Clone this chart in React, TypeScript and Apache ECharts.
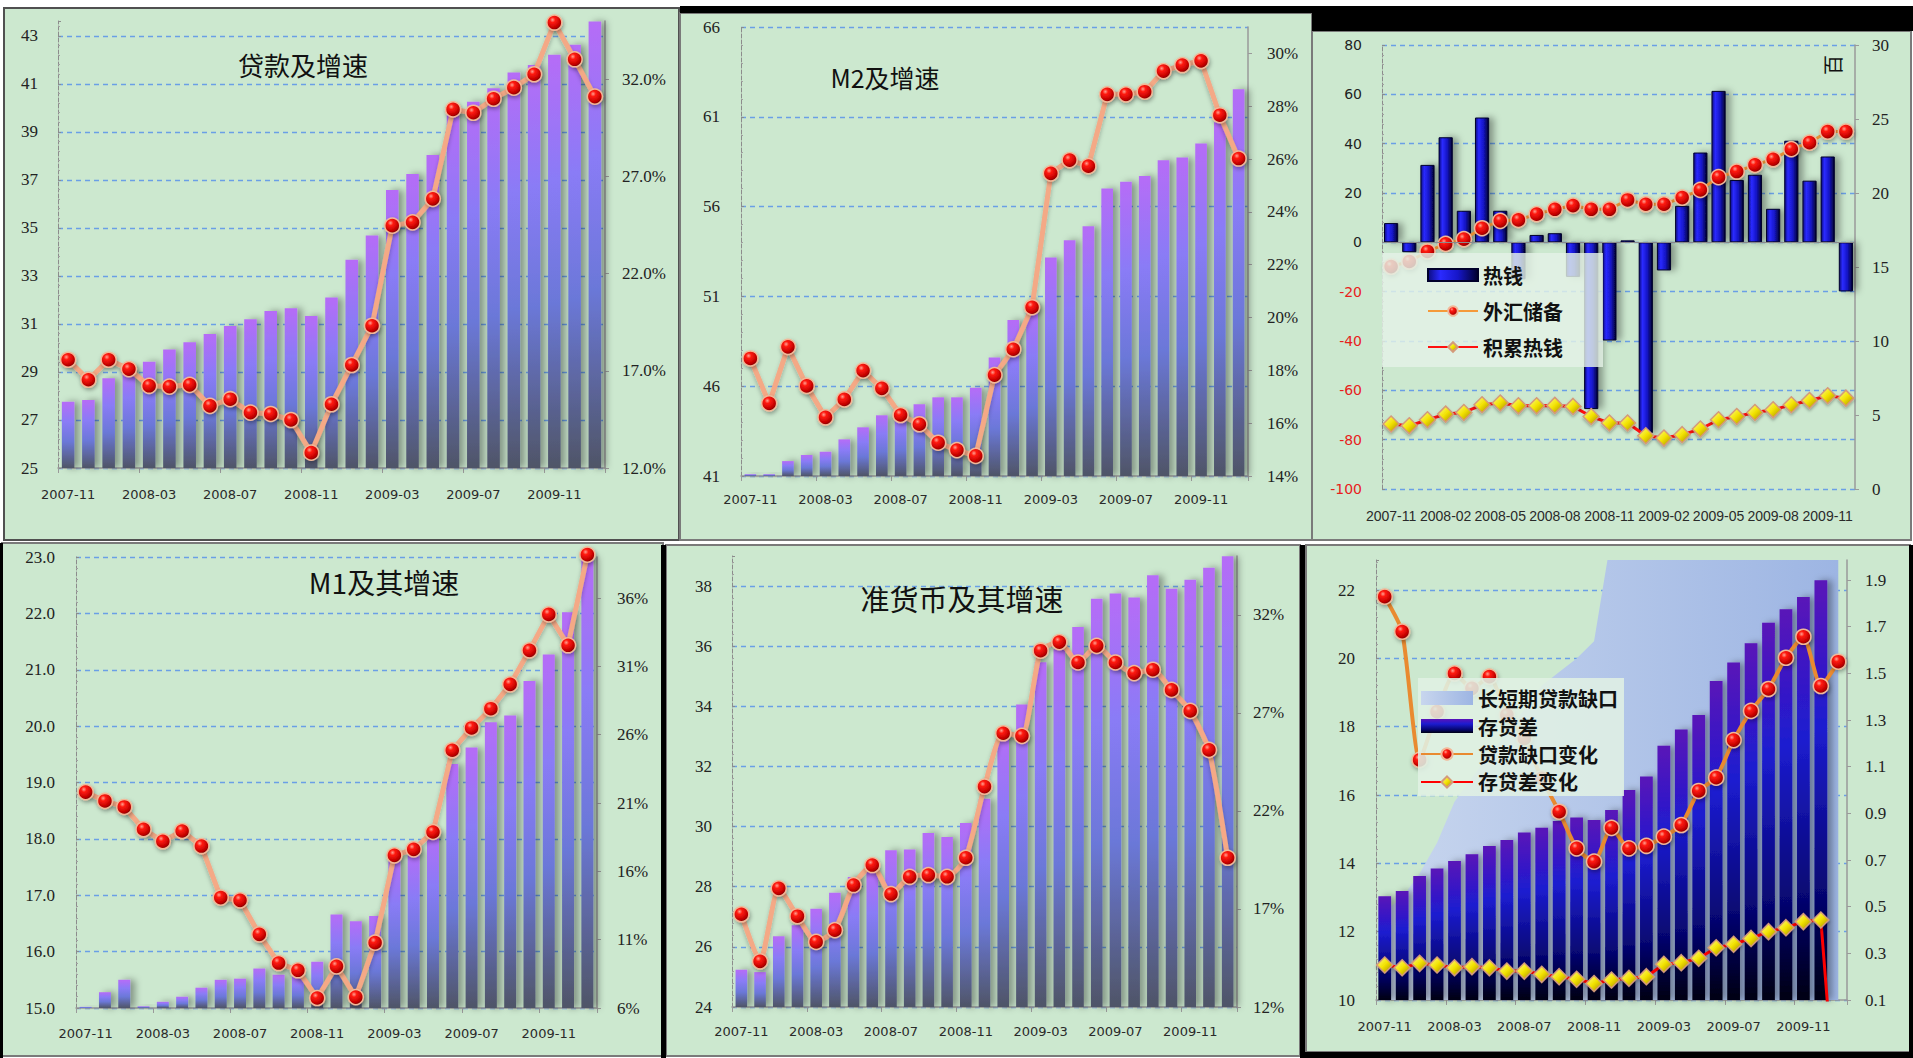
import React, { useEffect, useRef } from 'react';
import * as echarts from 'echarts';

// ---------------- data ----------------
const MONTHS = ['2007-11', '2007-12', '2008-01', '2008-02', '2008-03', '2008-04', '2008-05', '2008-06', '2008-07', '2008-08', '2008-09', '2008-10', '2008-11', '2008-12', '2009-01', '2009-02', '2009-03', '2009-04', '2009-05', '2009-06', '2009-07', '2009-08', '2009-09', '2009-10', '2009-11', '2009-12', '2010-01'];
const MONTHS_HOT = ['2007-11', '2007-12', '2008-01', '2008-02', '2008-03', '2008-04', '2008-05', '2008-06', '2008-07', '2008-08', '2008-09', '2008-10', '2008-11', '2008-12', '2009-01', '2009-02', '2009-03', '2009-04', '2009-05', '2009-06', '2009-07', '2009-08', '2009-09', '2009-10', '2009-11', '2009-12'];

const TITLES = ['贷款及增速', 'M2及增速', 'M1及其增速', '准货币及其增速'];
const UNIT_TEXT = '百';

// panel 1: loans
const LOANS = [27.76, 27.83, 28.74, 29.2, 29.43, 29.94, 30.24, 30.58, 30.92, 31.2, 31.54, 31.65, 31.33, 32.1, 33.67, 34.68, 36.58, 37.25, 38.04, 39.8, 40.26, 40.82, 41.47, 41.79, 42.21, 42.63, 43.6];
const LOAN_GROWTH = [17.57, 16.54, 17.57, 17.09, 16.23, 16.19, 16.28, 15.2, 15.54, 14.85, 14.78, 14.47, 12.79, 15.28, 17.3, 19.32, 24.47, 24.64, 25.85, 30.45, 30.28, 31.0, 31.57, 32.26, 34.92, 33.03, 31.11];

// panel 2: M2
const M2 = [41.1, 41.1, 41.83, 42.17, 42.35, 43.04, 43.71, 44.38, 44.6, 44.99, 45.38, 45.38, 45.91, 47.6, 49.68, 50.6, 53.17, 54.13, 54.91, 57.01, 57.38, 57.71, 58.58, 58.73, 59.51, 60.7, 62.54];
const M2_GROWTH = [18.45, 16.75, 18.89, 17.41, 16.22, 16.9, 17.99, 17.32, 16.31, 15.96, 15.26, 14.98, 14.76, 17.82, 18.8, 20.39, 25.46, 25.96, 25.73, 28.45, 28.45, 28.55, 29.33, 29.56, 29.72, 27.66, 26.02];

// panel 3: hot money
const HOT_MONEY = [7.8, -4, 31.4, 42.6, 12.8, 50.6, 12.8, -15, 3.0, 3.7, -14, -67.6, -39.8, 0.8, -77.3, -11.4, 14.8, 36.4, 61.4, 25.3, 27.4, 13.6, 41.2, 25.0, 34.8, -19.9];
const FX_RESERVES = [15.03, 15.37, 16.05, 16.56, 16.88, 17.62, 18.12, 18.18, 18.57, 18.9, 19.15, 18.9, 18.9, 19.53, 19.24, 19.24, 19.69, 20.21, 21.07, 21.45, 21.9, 22.28, 22.96, 23.4, 24.15, 24.15];
const ACCUM_HOT = [4.39, 4.27, 4.68, 5.06, 5.17, 5.69, 5.81, 5.62, 5.62, 5.65, 5.58, 4.9, 4.46, 4.46, 3.6, 3.44, 3.67, 4.05, 4.68, 4.9, 5.17, 5.35, 5.69, 5.98, 6.3, 6.14];

// panel 4: M1
const M1 = [15.02, 15.28, 15.5, 15.03, 15.11, 15.2, 15.36, 15.5, 15.52, 15.7, 15.59, 15.56, 15.82, 16.66, 16.54, 16.63, 17.65, 17.8, 18.1, 19.33, 19.62, 20.07, 20.19, 20.8, 21.27, 22.02, 23.0];
const M1_GROWTH = [21.8, 21.15, 20.71, 19.08, 18.2, 18.95, 17.85, 14.08, 13.88, 11.39, 9.29, 8.76, 6.73, 9.05, 6.8, 10.78, 17.17, 17.61, 18.88, 24.86, 26.49, 27.9, 29.68, 32.17, 34.8, 32.54, 39.17];

// panel 5: quasi-money
const QUASI = [25.24, 25.16, 26.35, 26.72, 27.27, 27.8, 28.32, 28.5, 29.21, 29.24, 29.79, 29.65, 30.12, 30.93, 33.1, 34.06, 35.47, 35.9, 36.64, 37.58, 37.75, 37.62, 38.36, 37.91, 38.21, 38.61, 38.99];
const QUASI_GROWTH = [16.73, 14.33, 18.05, 16.63, 15.32, 15.92, 18.22, 19.24, 17.76, 18.64, 18.73, 18.64, 19.61, 23.24, 25.96, 25.83, 30.17, 30.61, 29.57, 30.42, 29.57, 29.03, 29.2, 28.17, 27.1, 25.11, 19.61];

// panel 6: gaps
const LT_ST_GAP = [12.6, 13.0, 13.7, 14.6, 15.8, 16.5, 17.2, 17.8, 18.5, 19.2, 19.6, 20.0, 20.5, 23.6, 24.2, 24.8, 25.4, 26.0, 26.6, 27.2, 27.8, 28.4, 29.0, 29.5, 30.0, 30.5, 31.0];
const DEP_LOAN_GAP = [13.04, 13.19, 13.63, 13.85, 14.07, 14.27, 14.51, 14.68, 14.9, 15.04, 15.24, 15.34, 15.27, 15.56, 16.15, 16.54, 17.44, 17.92, 18.34, 19.34, 19.88, 20.44, 21.04, 21.44, 21.8, 22.29, null];
const LOAN_GAP_CHG = [1.829, 1.679, 1.129, 1.336, 1.5, 1.436, 1.486, 1.322, 1.221, 1.05, 0.907, 0.75, 0.693, 0.838, 0.75, 0.761, 0.8, 0.85, 0.996, 1.053, 1.214, 1.339, 1.433, 1.567, 1.657, 1.446, 1.55];
const DEP_GAP_CHG = [0.25, 0.238, 0.257, 0.25, 0.238, 0.243, 0.238, 0.224, 0.224, 0.21, 0.2, 0.189, 0.171, 0.186, 0.193, 0.2, 0.253, 0.26, 0.279, 0.324, 0.339, 0.364, 0.393, 0.41, 0.436, 0.443, -0.5];

// ---------------- styles ----------------
const BG = '#cce8cf';
const GRID_LINE = { color: '#6a9fe6', type: [5, 4] as any, width: 1.3 };

function violetBar() {
  return new echarts.graphic.LinearGradient(0, 0, 0, 1, [
    { offset: 0, color: '#b66cf7' },
    { offset: 0.3, color: '#8a7bf6' },
    { offset: 0.6, color: '#6b78d8' },
    { offset: 1, color: '#4f5567' },
  ]);
}
function navyBevel() {
  return new echarts.graphic.LinearGradient(0, 0, 1, 0, [
    { offset: 0, color: '#0c0c80' },
    { offset: 0.25, color: '#2a2aff' },
    { offset: 0.6, color: '#1616c8' },
    { offset: 1, color: '#00002c' },
  ]);
}
function indigoBar() {
  return new echarts.graphic.LinearGradient(0, 0, 0, 1, [
    { offset: 0, color: '#5a12b8' },
    { offset: 0.35, color: '#1c1cd0' },
    { offset: 0.75, color: '#060670' },
    { offset: 1, color: '#000012' },
  ]);
}
function areaFill() {
  return new echarts.graphic.LinearGradient(0, 0, 1, 0, [
    { offset: 0, color: '#c8d6ee' },
    { offset: 1, color: '#9db5e3' },
  ]);
}
function redBall() {
  return {
    color: new echarts.graphic.RadialGradient(0.38, 0.32, 0.72, [
      { offset: 0, color: '#ffa090' },
      { offset: 0.25, color: '#ff1a10' },
      { offset: 0.75, color: '#c00000' },
      { offset: 1, color: '#6a0000' },
    ]),
    borderColor: '#f2b898',
    borderWidth: 1.5,
    shadowColor: 'rgba(0,0,0,0.35)',
    shadowBlur: 4,
    shadowOffsetX: 1,
    shadowOffsetY: 2,
  };
}
function yellowDiamond() {
  return {
    color: new echarts.graphic.LinearGradient(0, 0, 1, 1, [
      { offset: 0, color: '#ffff90' },
      { offset: 0.5, color: '#f2e200' },
      { offset: 1, color: '#a08000' },
    ]),
    borderColor: '#d49a7a',
    borderWidth: 1.5,
    shadowColor: 'rgba(0,0,0,0.3)',
    shadowBlur: 3,
    shadowOffsetY: 2,
  };
}
const BAR_SHADOW = { shadowColor: 'rgba(0,0,0,0.35)', shadowBlur: 7, shadowOffsetX: 5, shadowOffsetY: 0 };

// ---------------- axes helpers ----------------
function xAxis(gi: number, data: string[], interval: number, margin: number, showLine = true, font: any = {}) {
  return {
    type: 'category', gridIndex: gi, data, boundaryGap: true,
    axisLine: { show: showLine, onZero: false, lineStyle: { color: '#9a9a9a', width: 1.5 } },
    axisTick: { show: showLine, interval, length: 5, lineStyle: { color: '#9a9a9a' } },
    axisLabel: { interval, margin, fontFamily: 'DejaVu Sans', fontSize: 13, color: '#2a2a2a', ...font },
    splitLine: { show: false },
  };
}
function yLeft(gi: number, min: number, max: number, interval: number, margin: number, showMax: boolean, label: any = {}) {
  return {
    type: 'value', gridIndex: gi, position: 'left', min, max, interval,
    axisLine: { show: true, lineStyle: { color: '#8c8c8c', type: 'dashed', width: 1 } },
    axisTick: { show: true, inside: true, length: 3, lineStyle: { color: '#8c8c8c' } },
    minorTick: { show: true, splitNumber: 5, length: 2, lineStyle: { color: '#a0a0a0' } },
    axisLabel: { margin, fontFamily: 'Liberation Serif', fontSize: 17, color: '#222', showMaxLabel: showMax, ...label },
    splitLine: { show: true, showMaxLine: showMax, lineStyle: GRID_LINE },
  };
}
function yRight(gi: number, min: number, max: number, interval: number, margin: number, showMax: boolean, formatter: any) {
  return {
    type: 'value', gridIndex: gi, position: 'right', min, max, interval,
    axisLine: { show: true, lineStyle: { color: '#9a9a9a', width: 1.5 } },
    axisTick: { show: true, length: 4, lineStyle: { color: '#9a9a9a' } },
    axisLabel: { margin, fontFamily: 'Liberation Serif', fontSize: 17, color: '#222', showMaxLabel: showMax, formatter },
    splitLine: { show: false },
  };
}

function growthPair(gi: number, barName: string, bars: any[], lineName: string, line: any[], smooth: number, clip = true) {
  return [
    {
      name: barName, type: 'bar', xAxisIndex: gi, yAxisIndex: gi * 2, data: bars, barWidth: '62%',
      itemStyle: { color: violetBar(), ...BAR_SHADOW },
    },
    {
      name: lineName, type: 'line', xAxisIndex: gi, yAxisIndex: gi * 2 + 1, data: line, smooth, clip,
      symbol: 'circle', symbolSize: 15, showAllSymbol: true,
      lineStyle: { color: '#f4a986', width: 5, shadowColor: 'rgba(0,0,0,0.25)', shadowBlur: 4, shadowOffsetY: 3 },
      itemStyle: redBall(),
    },
  ];
}

function buildOption() {
  const grids = [
    { left: 58, top: 21, width: 547, height: 447 },
    { left: 741, top: 27, width: 507, height: 449 },
    { left: 1382, top: 45, width: 473, height: 444 },
    { left: 76, top: 557, width: 521, height: 451 },
    { left: 732, top: 556, width: 505, height: 451 },
    { left: 1376, top: 560, width: 471, height: 440 },
  ];

  const pct1 = (v: number) => v.toFixed(1) + '%';
  const pct0 = (v: number) => Math.round(v) + '%';

  const xAxes = [
    xAxis(0, MONTHS, 3, 20),
    xAxis(1, MONTHS, 3, 17),
    xAxis(2, MONTHS_HOT, 2, 20, false, { fontFamily: 'Liberation Sans', fontSize: 14 }),
    xAxis(3, MONTHS, 3, 19),
    xAxis(4, MONTHS, 3, 18),
    xAxis(5, MONTHS, 3, 20),
  ];

  const yAxes = [
    yLeft(0, 25, 43.62, 2, 20, false),
    yRight(0, 12, 35, 5, 17, false, pct1),
    yLeft(1, 41, 66, 5, 21, true),
    yRight(1, 14, 31, 2, 19, false, pct0),
    yLeft(2, -100, 80, 20, 20, true, {
      fontFamily: 'DejaVu Sans', fontSize: 14,
      color: (v: any) => (Number(v) < 0 ? '#e8201c' : '#222'),
    }),
    yRight(2, 0, 30, 5, 17, true, (v: number) => String(v)),
    yLeft(3, 15, 23, 1, 21, true, { formatter: (v: number) => v.toFixed(1) }),
    yRight(3, 6, 39, 5, 20, false, pct0),
    yLeft(4, 24, 39, 2, 20, false),
    yRight(4, 12, 35, 5, 16, false, pct0),
    yLeft(5, 10, 22.88, 2, 21, false),
    yRight(5, 0.1, 1.986, 0.2, 18, false, (v: number) => v.toFixed(1)),
  ];

  const series: any[] = [
    ...growthPair(0, '贷款', LOANS, '贷款增速', LOAN_GROWTH, 0),
    ...growthPair(1, 'M2', M2, 'M2增速', M2_GROWTH, 0),
    {
      name: '热钱', type: 'bar', xAxisIndex: 2, yAxisIndex: 4, data: HOT_MONEY, barWidth: '78%',
      itemStyle: { color: navyBevel(), borderColor: '#00002a', borderWidth: 1, ...BAR_SHADOW },
      markLine: {
        silent: true, symbol: 'none', label: { show: false },
        lineStyle: { color: '#8a8a8a', type: 'solid', width: 1 },
        data: [{ yAxis: 0 }],
      },
    },
    {
      name: '外汇储备', type: 'line', xAxisIndex: 2, yAxisIndex: 5, data: FX_RESERVES,
      symbol: 'circle', symbolSize: 15, showAllSymbol: true,
      lineStyle: { color: '#f59a3a', width: 3 },
      itemStyle: redBall(),
    },
    {
      name: '积累热钱', type: 'line', xAxisIndex: 2, yAxisIndex: 5, data: ACCUM_HOT,
      symbol: 'diamond', symbolSize: 16, showAllSymbol: true,
      lineStyle: { color: '#ff1010', width: 3 },
      itemStyle: yellowDiamond(),
    },
    ...growthPair(3, 'M1', M1, 'M1增速', M1_GROWTH, 0, false),
    ...growthPair(4, '准货币', QUASI, '准货币增速', QUASI_GROWTH, 0.2),
    {
      name: '长短期贷款缺口', type: 'line', xAxisIndex: 5, yAxisIndex: 10, data: LT_ST_GAP,
      symbol: 'none', z: 1, clip: true,
      lineStyle: { width: 0, color: '#b4c6ea' },
      itemStyle: { color: '#b4c6ea' },
      areaStyle: { color: areaFill(), opacity: 1 },
    },
    {
      name: '存贷差', type: 'bar', xAxisIndex: 5, yAxisIndex: 10, data: DEP_LOAN_GAP, barWidth: '73%',
      itemStyle: { color: indigoBar(), ...BAR_SHADOW },
    },
    {
      name: '贷款缺口变化', type: 'line', xAxisIndex: 5, yAxisIndex: 11, data: LOAN_GAP_CHG, smooth: 0.2,
      symbol: 'circle', symbolSize: 15, showAllSymbol: true,
      lineStyle: { color: '#e98a30', width: 4 },
      itemStyle: redBall(),
    },
    {
      name: '存贷差变化', type: 'line', xAxisIndex: 5, yAxisIndex: 11,
      data: DEP_GAP_CHG.map((v, i) => (i === DEP_GAP_CHG.length - 1 ? { value: v, symbol: 'none' } : v)),
      symbol: 'diamond', symbolSize: 16, showAllSymbol: true,
      lineStyle: { color: '#ff0000', width: 3 },
      itemStyle: yellowDiamond(),
    },
  ];

  const legendText = { fontFamily: 'Noto Sans CJK SC', fontSize: 20, fontWeight: 'bold', color: '#111' };
  const legends = [
    {
      show: true, orient: 'vertical', left: 1382, top: 253,
      padding: [12, 40, 10, 45], itemGap: 16, itemWidth: 50, itemHeight: 12,
      backgroundColor: 'rgba(228,241,231,0.82)', selectedMode: false, textStyle: legendText,
      data: [{ name: '热钱', icon: 'rect' }, '外汇储备', '积累热钱'],
    },
    {
      show: true, orient: 'vertical', left: 1418, top: 678,
      padding: [10, 6, 4, 2], itemGap: 8, itemWidth: 52, itemHeight: 14,
      backgroundColor: 'rgba(224,240,228,0.88)', selectedMode: false, textStyle: legendText,
      data: [
        { name: '长短期贷款缺口', icon: 'rect', itemStyle: { color: areaFill() } },
        { name: '存贷差', icon: 'rect' },
        '贷款缺口变化',
        '存贷差变化',
      ],
    },
  ];

  const panel = (x: number, y: number, w: number, h: number, stroke = '#7a7a7a') => ({
    type: 'rect', z: -10, shape: { x, y, width: w, height: h },
    style: { fill: BG, stroke, lineWidth: 2 },
  });
  const black = (x: number, y: number, w: number, h: number) => ({
    type: 'rect', z: -9, shape: { x, y, width: w, height: h }, style: { fill: '#000' },
  });
  const title = (text: string, x: number, y: number, size: number) => ({
    type: 'text', z: 10, x, y,
    style: {
      text, fill: '#111', font: `${size}px "Noto Sans CJK SC"`,
      textAlign: 'center', textVerticalAlign: 'middle',
    },
  });

  const graphic = [
    panel(4, 8, 675, 532, '#505050'),
    panel(680, 13, 632, 527),
    panel(1312, 31, 599, 509),
    panel(2, 543, 661, 513),
    panel(666, 545, 634, 511),
    panel(1306, 545, 604, 507),
    black(680, 6, 1233, 7),
    black(1312, 6, 601, 25),
    black(0, 543, 3, 515),
    black(661, 545, 5, 513),
    black(1300, 545, 5, 513),
    black(1300, 1052, 613, 6),
    black(1909, 545, 4, 513),
    title(TITLES[0], 303, 64, 26),
    title(TITLES[1], 885, 77, 25),
    title(TITLES[2], 384, 582, 28),
    title(TITLES[3], 962, 598, 29),
    {
      type: 'text', z: 10, x: 1832, y: 65, rotation: Math.PI / 2,
      style: {
        text: UNIT_TEXT, fill: '#111', font: '20px "Noto Sans CJK SC"',
        textAlign: 'center', textVerticalAlign: 'middle',
      },
    },
  ];

  return {
    animation: false,
    backgroundColor: '#ffffff',
    grid: grids.map((g) => ({ ...g, containLabel: false })),
    xAxis: xAxes,
    yAxis: yAxes,
    legend: legends,
    series,
    graphic,
  };
}

export default function App() {
  const ref = useRef<HTMLDivElement>(null);
  useEffect(() => {
    const chart = echarts.init(ref.current as HTMLDivElement, null, { renderer: 'svg' });
    chart.setOption(buildOption() as any);
    return () => chart.dispose();
  }, []);
  return (
    <div
      ref={ref}
      style={{ position: 'fixed', left: 0, top: 0, width: 1913, height: 1058, background: '#fff' }}
    />
  );
}
